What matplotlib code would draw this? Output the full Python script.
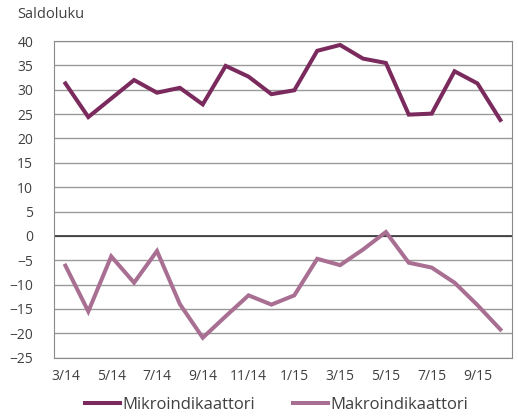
import matplotlib.pyplot as plt
import numpy as np

months = ['3/14', '4/14', '5/14', '6/14', '7/14', '8/14', '9/14', '10/14', '11/14', '12/14',
          '1/15', '2/15', '3/15', '4/15', '5/15', '6/15', '7/15', '8/15', '9/15', '10/15']
mikro = [31.3, 24.4, 28.2, 32.0, 29.4, 30.4, 27.0, 34.9, 32.7, 29.1,
         29.9, 38.0, 39.2, 36.4, 35.5, 24.9, 25.1, 33.8, 31.3, 23.8]
makro = [-6.1, -15.5, -4.2, -9.6, -3.1, -14.0, -20.9, -16.5, -12.2, -14.1,
         -12.2, -4.7, -6.0, -2.8, 0.8, -5.5, -6.5, -9.6, -14.2, -19.2]

plt.rcParams['font.family'] = ['Open Sans', 'DejaVu Sans']
txt = '#404040'

fig = plt.figure(figsize=(5.18, 4.19), dpi=100)
ax = fig.add_axes([0.1042, 0.1463, 0.8838, 0.7557])

x = np.arange(len(months))
ax.plot(x, mikro, color='#7a2a5c', lw=2.9, label='Mikroindikaattori', solid_joinstyle='miter')
ax.plot(x, makro, color='#a86f93', lw=2.9, label='Makroindikaattori', solid_joinstyle='miter')

ax.set_xlim(-0.5, len(months) - 0.5)
ax.set_ylim(-25, 40)
ax.set_yticks(np.arange(-25, 41, 5))
ax.yaxis.grid(True, color='#9a9a9a', lw=1)
ax.axhline(0, color='#333333', lw=1.2, zorder=1)
ax.set_axisbelow(True)
for s in ax.spines.values():
    s.set_color('#8a8a8a')
ax.set_xticks(x[::2])
ax.set_xticklabels(months[::2])
ax.tick_params(length=0, labelsize=10, colors=txt, pad=8)
ax.tick_params(axis='y', pad=15)
for lbl in ax.get_yticklabels():
    lbl.set_horizontalalignment('right')

fig.text(0.033, 0.965, 'Saldoluku', fontsize=10.5, color=txt, va='center')

fig.legend(loc='center', bbox_to_anchor=(0.534, 0.033), ncol=2, frameon=False,
           fontsize=12, handlelength=2.1, handletextpad=0.15, columnspacing=2.3,
           labelcolor=txt)

fig.savefig('out.png', dpi=100)
